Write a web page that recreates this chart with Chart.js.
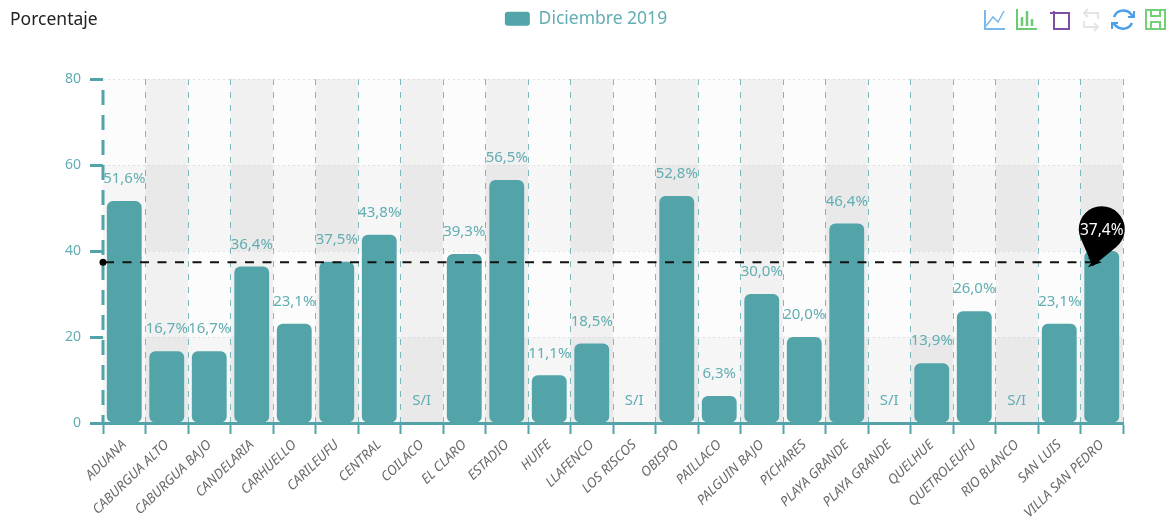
<!DOCTYPE html>
<html>
<head>
<meta charset="utf-8">
<title>Porcentaje</title>
<script src="https://cdn.jsdelivr.net/npm/chart.js@4/dist/chart.umd.min.js"></script>
<style>
  html, body { margin: 0; background: #fff; }
  #wrap { position: relative; width: 1172px; height: 519px; overflow: hidden; }
  #titulo { position: absolute; left: 10px; top: 6px; font: 17.5px "Noto Sans", sans-serif; color: #222; }
  #tools { position: absolute; left: 980px; top: 5px; }
</style>
</head>
<body>
<div id="wrap">
  <canvas id="grafico" width="1172" height="519"></canvas>
  <div id="titulo">Porcentaje</div>
  <svg id="tools" width="190" height="30" fill="none" stroke-width="2">
    <g stroke="#7ab8ec"><path d="M5 5V24H25"/><path d="M6 21L13 12L18 17L24 6" stroke-width="1.5"/></g>
    <g stroke="#6ccb70"><path d="M37 4V24H57"/><path d="M42 21V12M47 21V6M52 21V14" stroke-width="2.5"/></g>
    <g stroke="#7d4fa8"><path d="M74 8H89V24H74V6M70 8H74"/></g>
    <g stroke="#e4e4e4"><path d="M104 8H118V14M118 22H104V16M108 4L104 8L108 12M114 18L118 22L114 26"/></g>
    <g stroke="#4b9fe8" stroke-width="2.5"><path d="M134 12A10 10 0 0 1 151 9L153 12M152 18A10 10 0 0 1 136 21L133 18"/><path d="M148 12H154V6M138 18H132V24" stroke-width="2"/></g>
    <g stroke="#72d076"><path d="M166 5H185V24H166Z"/><path d="M171 5V11H180V5M171 24V17H180V24"/></g>
  </svg>
</div>
<script>
const categorias = ['ADUANA', 'CABURGUA ALTO', 'CABURGUA BAJO', 'CANDELARIA', 'CARHUELLO', 'CARILEUFU', 'CENTRAL', 'COILACO',
  'EL CLARO', 'ESTADIO', 'HUIFE', 'LLAFENCO', 'LOS RISCOS', 'OBISPO', 'PAILLACO', 'PALGUIN BAJO', 'PICHARES', 'PLAYA GRANDE',
  'PLAYA GRANDE', 'QUELHUE', 'QUETROLEUFU', 'RIO BLANCO', 'SAN LUIS', 'VILLA SAN PEDRO'];
const valores = [51.6, 16.7, 16.7, 36.4, 23.1, 37.5, 43.8, null, 39.3, 56.5, 11.1, 18.5, null, 52.8, 6.3, 30.0, 20.0, 46.4, null, 13.9, 26.0, null, 23.1, 40.0];
const promedio = 37.4;
const serie = 'Diciembre 2019';

const teal = '#53a4a9';
const tealTexto = '#62aeb2';
const fuente = '"Noto Sans", sans-serif';

function coma(v) {
  return v.toFixed(1).replace('.', ',') + '%';
}

// bandas de fondo, una por categoria y una por tramo del eje y
const bandas = {
  id: 'bandas',
  beforeDraw(chart) {
    const { ctx, chartArea: a, scales: { x, y } } = chart;
    ctx.save();
    const paso = x.width / categorias.length;
    categorias.forEach((c, i) => {
      ctx.fillStyle = i % 2 ? 'rgba(200,200,200,0.3)' : 'rgba(250,250,250,0.3)';
      ctx.fillRect(x.getPixelForValue(i) - paso / 2, a.top, paso, a.height);
    });
    const t = y.ticks;
    for (let i = 0; i < t.length - 1; i++) {
      const y0 = y.getPixelForValue(t[i].value);
      const y1 = y.getPixelForValue(t[i + 1].value);
      ctx.fillStyle = i % 2 ? 'rgba(250,250,250,0.3)' : 'rgba(200,200,200,0.12)';
      ctx.fillRect(a.left, y1, a.width, y0 - y1);
    }
    ctx.restore();
  }
};

// eje y punteado, etiquetas de valor, linea de promedio y marcador
const marcas = {
  id: 'marcas',
  afterDatasetsDraw(chart) {
    const { ctx, chartArea: a, scales: { x, y } } = chart;
    ctx.save();
    ctx.strokeStyle = teal;
    ctx.lineWidth = 3;
    ctx.setLineDash([15, 10]);
    ctx.beginPath();
    ctx.moveTo(a.left, a.top + 11);
    ctx.lineTo(a.left, a.bottom);
    ctx.stroke();
    ctx.setLineDash([]);

    ctx.font = '15px ' + fuente;
    ctx.fillStyle = tealTexto;
    ctx.textAlign = 'center';
    ctx.textBaseline = 'middle';
    valores.forEach((v, i) => {
      const py = y.getPixelForValue(v === null ? 0 : v) - 22;
      ctx.fillText(v === null ? 'S/I' : coma(v), x.getPixelForValue(i), py);
    });

    const fin = x.getPixelForValue(categorias.length - 1);
    const py = y.getPixelForValue(promedio);
    ctx.strokeStyle = '#111';
    ctx.fillStyle = '#000';
    ctx.lineWidth = 2;
    ctx.setLineDash([9, 8.5]);
    ctx.beginPath();
    ctx.moveTo(a.left + 2, py);
    ctx.lineTo(fin - 6, py);
    ctx.stroke();
    ctx.setLineDash([]);
    ctx.beginPath();
    ctx.arc(a.left, py, 3.5, 0, Math.PI * 2);
    ctx.fill();
    ctx.beginPath();
    ctx.moveTo(fin, py);
    ctx.lineTo(fin - 14, py - 5);
    ctx.lineTo(fin - 10, py);
    ctx.lineTo(fin - 14, py + 5);
    ctx.closePath();
    ctx.fill();

    const cx = fin;
    const cy = py - 33;
    const r = 23;
    const tx = fin - 9;
    const ty = py + 4;
    const ang = Math.atan2(ty - cy, tx - cx);
    const beta = Math.acos(r / Math.hypot(tx - cx, ty - cy));
    ctx.beginPath();
    ctx.arc(cx, cy, r, ang + beta, ang - beta + Math.PI * 2);
    ctx.lineTo(tx, ty);
    ctx.closePath();
    ctx.fill();
    ctx.fillStyle = '#fff';
    ctx.font = '15.5px ' + fuente;
    ctx.fillText(coma(promedio), cx, cy + 1);
    ctx.restore();
  }
};

// deja espacio bajo la leyenda y la centra en todo el lienzo
const espacioLeyenda = {
  id: 'espacioLeyenda',
  beforeInit(chart) {
    const fit = chart.legend.fit;
    chart.legend.fit = function () {
      fit.call(this);
      this.height = 79;
    };
  },
  afterLayout(chart) {
    chart.legend.left = 0;
    chart.legend.right = chart.width;
    chart.legend.width = chart.width;
  }
};

new Chart(document.getElementById('grafico').getContext('2d'), {
  type: 'bar',
  data: {
    labels: categorias,
    datasets: [{
      label: serie,
      data: valores,
      backgroundColor: teal,
      borderWidth: 0,
      borderSkipped: false,
      borderRadius: 6,
      categoryPercentage: 1,
      barPercentage: 0.82
    }]
  },
  plugins: [bandas, marcas, espacioLeyenda],
  options: {
    responsive: false,
    animation: false,
    layout: { padding: { right: 49 } },
    plugins: {
      tooltip: { enabled: false },
      legend: {
        position: 'top',
        labels: {
          boxWidth: 25,
          boxHeight: 14,
          padding: 10,
          useBorderRadius: true,
          borderRadius: 3,
          color: tealTexto,
          font: { family: fuente, size: 17.5 }
        }
      }
    },
    scales: {
      x: {
        afterFit(s) { s.height = 96; },
        grid: {
          color: c => (c.index === categorias.length || c.index === 0) ? 'rgba(0,0,0,0)' : 'rgba(83,164,169,0.75)',
          lineWidth: 1,
          tickColor: teal,
          tickWidth: 2,
          tickLength: 11,
          tickBorderDash: []
        },
        border: { color: teal, width: 3, dash: [6, 7] },
        ticks: {
          autoSkip: false,
          minRotation: 44,
          maxRotation: 44,
          padding: 3,
          color: '#6a6a6a',
          font: { family: fuente, size: 13.5, style: 'italic' }
        }
      },
      y: {
        min: 0,
        max: 80,
        afterFit(s) { s.width = 103; },
        grid: {
          color: 'rgba(215,215,215,0.7)',
          lineWidth: 1,
          tickColor: teal,
          tickWidth: 3,
          tickLength: 13,
          tickBorderDash: []
        },
        border: { display: false, dash: [2, 3] },
        ticks: {
          stepSize: 20,
          padding: 9,
          color: tealTexto,
          font: { family: fuente, size: 14 }
        }
      }
    }
  }
});
</script>
</body>
</html>
